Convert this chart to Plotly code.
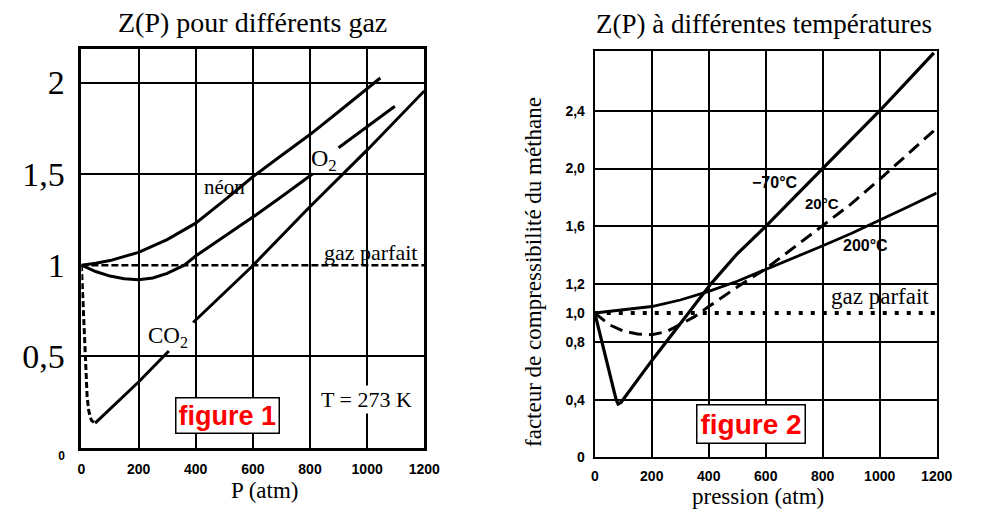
import plotly.graph_objects as go

# ---------------- Figure 1 : Z(P) for different gases (T = 273 K) ----------------
p_ideal1 = [0, 1200]
z_ideal1 = [1.0, 1.0]

p_neon = [0, 50, 100, 200, 300, 400, 500, 600, 700, 800, 900, 1046]
z_neon = [1.0, 1.01, 1.025, 1.07, 1.14, 1.23, 1.355, 1.484, 1.60, 1.715, 1.84, 2.025]

p_o2 = [0, 50, 100, 150, 200, 250, 300, 360, 400, 500, 600, 700, 810, None, 900, 1000, 1097]
z_o2 = [1.0, 0.965, 0.94, 0.925, 0.92, 0.93, 0.955, 1.0, 1.05, 1.155, 1.263, 1.375, 1.50, None, 1.643, 1.758, 1.87]

p_co2_dash = [0, 4, 8, 14, 20, 26, 35, 48]
z_co2_dash = [1.0, 0.88, 0.72, 0.5, 0.28, 0.2, 0.15, 0.135]
p_co2 = [48, 100, 200, 306, None, 391, 595, 797, 1003, 1200]
z_co2 = [0.135, 0.213, 0.36, 0.53, None, 0.686, 0.99, 1.316, 1.635, 1.954]

x1_ticks = [0, 200, 400, 600, 800, 1000, 1200]
x1_labels = ["0", "200", "400", "600", "800", "1000", "1200"]
y1_ticks = [0, 0.5, 1, 1.5, 2]
y1_labels = ["0", "0,5", "1", "1,5", "2"]
y1_grid = [0.5, 1.5, 2]

# ---------------- Figure 2 : methane at different temperatures ----------------
p_ideal2 = [0, 1200]
z_ideal2 = [1.0, 1.0]

p_m70 = [0, 40, 75, 82, 92, 200, 300, 407, 500, 600, 700, 800, 900, 1000, 1100, 1190]
z_m70 = [1.0, 0.68, 0.40, 0.37, 0.38, 0.67, 0.93, 1.2, 1.41, 1.6, 1.80, 2.0, 2.2, 2.4, 2.61, 2.8]

p_20 = [0, 50, 100, 150, 200, 250, 300, 350, 400, 500, 600, 700, 800, 900, 1000, 1100, 1200]
z_20 = [1.0, 0.92, 0.875, 0.855, 0.85, 0.87, 0.92, 0.975, 1.045, 1.18, 1.306, 1.455, 1.605, 1.755, 1.925, 2.1, 2.28]

p_200 = [0, 100, 200, 300, 400, 500, 600, 700, 800, 900, 1000, 1100, 1200]
z_200 = [1.0, 1.02, 1.045, 1.09, 1.15, 1.22, 1.30, 1.38, 1.465, 1.55, 1.64, 1.735, 1.83]

x2_ticks = [0, 200, 400, 600, 800, 1000, 1200]
x2_labels = ["0", "200", "400", "600", "800", "1000", "1200"]
y2_ticks = [0, 0.4, 0.8, 1.0, 1.2, 1.6, 2.0, 2.4]
y2_labels = ["0", "0,4", "0,8", "1,0", "1,2", "1,6", "2,0", "2,4"]
y2_grid = [0.4, 0.8, 1.2, 1.6, 2.0, 2.4]

SERIF = "Liberation Serif, Times New Roman, serif"
SANS = "Liberation Sans, Arial, sans-serif"
BLACK = "#000000"

fig = go.Figure()

def line(x, y, xa, ya, width=3, dash="solid"):
    fig.add_trace(go.Scatter(x=x, y=y, xaxis=xa, yaxis=ya, mode="lines",
                             line=dict(color=BLACK, width=width, dash=dash),
                             connectgaps=False, showlegend=False, hoverinfo="skip"))

# panel 1
line(p_ideal1, z_ideal1, "x", "y", width=2.5, dash="7px,3px")
line(p_neon, z_neon, "x", "y", width=3)
line(p_o2, z_o2, "x", "y", width=3)
line(p_co2_dash, z_co2_dash, "x", "y", width=3, dash="6px,3px")
line(p_co2, z_co2, "x", "y", width=3)

# panel 2
line(p_ideal2, z_ideal2, "x2", "y2", width=4, dash="4px,8px")
line(p_m70, z_m70, "x2", "y2", width=3.2)
line(p_20, z_20, "x2", "y2", width=3, dash="13px,7px")
line(p_200, z_200, "x2", "y2", width=2.8)

W, H = 986, 522

tick_bold = dict(family=SANS, size=14, color=BLACK, weight="bold")

y1_text = []
for v, t in zip(y1_ticks, y1_labels):
    if v == 0:
        y1_text.append("<span style='font-size:12px;font-family:Liberation Sans;font-weight:bold'>0</span>")
    else:
        y1_text.append(t)

fig.update_layout(
    width=W, height=H,
    margin=dict(l=0, r=0, t=0, b=0),
    paper_bgcolor="white", plot_bgcolor="white",
    showlegend=False,
    xaxis=dict(domain=[79 / W, 429 / W], range=[0, 1200], anchor="y",
               tickvals=x1_ticks, ticktext=x1_labels, tickfont=tick_bold,
               showgrid=True, gridcolor=BLACK, gridwidth=2, zeroline=False,
               showline=True, linecolor=BLACK, linewidth=2.5, mirror=True,
               ticks="", ticklabelstandoff=7),
    yaxis=dict(domain=[1 - 461 / H, 1 - 50 / H], range=[0, 2.186], anchor="x",
               tickvals=y1_ticks, ticktext=y1_text,
               tickfont=dict(family=SERIF, size=34, color=BLACK),
               showgrid=False, zeroline=False,
               minor=dict(tickvals=y1_grid, showgrid=True, gridcolor=BLACK, gridwidth=2, ticks=""),
               showline=True, linecolor=BLACK, linewidth=2.5, mirror=True,
               ticks="", ticklabelstandoff=7),
    xaxis2=dict(domain=[603 / W, 952 / W], range=[0, 1200], anchor="y2",
                tickvals=x2_ticks, ticktext=x2_labels, tickfont=tick_bold,
                showgrid=True, gridcolor=BLACK, gridwidth=1.8, zeroline=False,
                showline=True, linecolor=BLACK, linewidth=2.2, mirror=True,
                ticks="", ticklabelstandoff=5),
    yaxis2=dict(domain=[1 - 471 / H, 1 - 52 / H], range=[0, 2.817], anchor="x2",
                tickvals=y2_ticks, ticktext=y2_labels, tickfont=tick_bold,
                showgrid=False, zeroline=False,
                minor=dict(tickvals=y2_grid, showgrid=True, gridcolor=BLACK, gridwidth=1.8, ticks=""),
                showline=True, linecolor=BLACK, linewidth=2.2, mirror=True,
                ticks="", ticklabelstandoff=5),
)

ann = []
def txt(text, x, y, xref, yref, size, family=SERIF, color=BLACK, **kw):
    ann.append(dict(text=text, x=x, y=y, xref=xref, yref=yref, showarrow=False,
                    xanchor="center", yanchor="middle",
                    font=dict(family=family, size=size, color=color), **kw))

# titles
txt("Z(P) pour différents gaz", 254 / W, 1 - 23 / H, "paper", "paper", 28)
txt("Z(P) à différentes températures", 776 / W, 1 - 25 / H, "paper", "paper", 27)
txt("P (atm)", 266 / W, 1 - 505 / H, "paper", "paper", 23)
txt("pression (atm)", 770 / W, 1 - 511 / H, "paper", "paper", 23)
txt("facteur de compressibilité du méthane", 541 / W, 1 - 280 / H, "paper", "paper", 23, textangle=-90)

# panel 1 labels
txt("néon", 500, 1.43, "x", "y", 21)
txt("O<sub>2</sub>", 850, 1.574, "x", "y", 24)
txt("CO<sub>2</sub>", 302, 0.606, "x", "y", 23)
txt("gaz parfait", 1012, 1.069, "x", "y", 22)
txt("T = 273 K", 998, 0.266, "x", "y", 22, bgcolor="white")
ann.append(dict(text="<b>figure 1</b>", x=511, y=0.176, xref="x", yref="y", showarrow=False,
                xanchor="center", yanchor="middle",
                font=dict(family=SANS, size=27, color="#ff0000"),
                bgcolor="white", bordercolor=BLACK, borderwidth=1.5, borderpad=2))

# panel 2 labels
txt("<b>−70°C</b>", 633, 1.90, "x2", "y2", 16, family=SANS)
txt("<b>20°C</b>", 798, 1.76, "x2", "y2", 15, family=SANS)
txt("<b>200°C</b>", 949, 1.47, "x2", "y2", 16, family=SANS)
txt("gaz parfait", 1000, 1.116, "x2", "y2", 23)
ann.append(dict(text="<b>figure 2</b>", x=547, y=0.229, xref="x2", yref="y2", showarrow=False,
                xanchor="center", yanchor="middle",
                font=dict(family=SANS, size=28, color="#ff0000"),
                bgcolor="white", bordercolor=BLACK, borderwidth=1.5, borderpad=3))

fig.update_layout(annotations=ann)

fig.write_html("out.html")
